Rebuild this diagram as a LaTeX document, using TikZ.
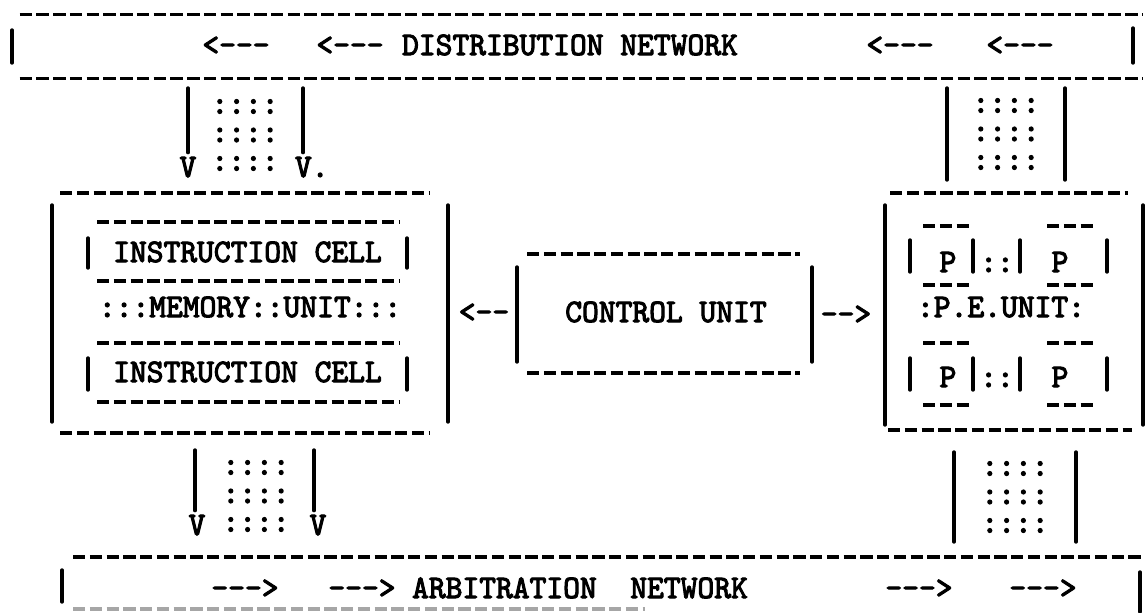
\documentclass[tikz,border=0pt]{standalone}
\usepackage{fontspec}
\usetikzlibrary{fit}
\newfontfamily\tw[FakeStretch=0.975,FakeBold=3.2,Ligatures=TeXOff]{lmmono10-regular.otf}
\begin{document}
\begin{tikzpicture}[x=0.5pt,y=-0.5pt,
  txt/.style={font={\tw\fontsize{16.4pt}{18pt}\selectfont},
              inner sep=0pt, text height=10pt, text depth=0pt},
  dots/.style={font={\tw\fontsize{16.4pt}{14.25pt}\selectfont},
               inner sep=0pt, align=center},
  rule/.style={line width=1.6pt, dash pattern=on 6.2pt off 2.175pt},
  bar/.style={line width=1.7pt, line cap=round},
  region/.style={inner sep=0pt, draw=none}]
\useasboundingbox[fill=white] (0,0) rectangle (1148,612);

% ---------------- distribution network band
\coordinate (dNW) at (20,15); \coordinate (dSE) at (1143,78);
\node[region, fit=(dNW)(dSE)] (dist) {};
\draw[rule] (dist.north west) -- (dist.north east);
\draw[rule] (dist.south west) -- (dist.south east);
\draw[bar] (12,30) -- (12,63);
\draw[bar] (1133,28) -- (1133,63);
\node[txt] (dArrA) at (236,45) {<---};
\node[txt] (dArrB) at (350,45) {<---};
\node[txt] (dTitle) at (570,45) {DISTRIBUTION NETWORK};
\node[txt] (dArrC) at (900,45) {<---};
\node[txt] (dArrD) at (1020,45) {<---};

% ---------------- memory unit
\coordinate (mNW) at (52,193); \coordinate (mSE) at (448,433);
\node[region, fit=(mNW)(mSE)] (mem) {};
\draw[rule] (60,193) -- (430,193);
\draw[rule] (60,433) -- (430,433);
\draw[bar] (52,205) -- (52,422);
\draw[bar] (448,205) -- (448,422);
% instruction cells
\node[txt] (cellA) at (247.5,252) {INSTRUCTION CELL};
\node[txt] (memLabel) at (250,307) {:::MEMORY::UNIT:::};
\node[txt] (cellB) at (247.5,372) {INSTRUCTION CELL};
\draw[rule] (97,222) -- (400,222);
\draw[rule] (97,281) -- (400,281);
\draw[rule] (97,343) -- (400,343);
\draw[rule] (97,402) -- (400,402);
\draw[bar] (88,238) -- (88,268);
\draw[bar] (407,238) -- (407,268);
\draw[bar] (88,358) -- (88,390);
\draw[bar] (407,358) -- (407,390);

% ---------------- control unit
\coordinate (cNW) at (517,254); \coordinate (cSE) at (812,373);
\node[region, fit=(cNW)(cSE)] (cu) {};
\draw[rule] (527,254) -- (800,254);
\draw[rule] (527,373) -- (800,373);
\draw[bar] (517,267) -- (517,362);
\draw[bar] (812,267) -- (812,362);
\node[txt] (cuLabel) at (666,312) {CONTROL UNIT};
\node[txt] (cuToMem) at (484,312) {<--};
\node[txt] (cuToPe) at (846,314) {-->};

% ---------------- processing element unit
\coordinate (pNW) at (885,193); \coordinate (pSE) at (1143,430);
\node[region, fit=(pNW)(pSE)] (pe) {};
\draw[rule] (890,193) -- (1128,193);
\draw[rule] (888,430) -- (1132,430);
\draw[bar] (885,205) -- (885,425);
\draw[bar] (1143,205) -- (1143,425);
\node[txt] (p1) at (948,262) {P};
\node[txt] (p2) at (1060,262) {P};
\node[txt] (p3) at (948,377) {P};
\node[txt] (p4) at (1060,377) {P};
\node[txt] (pLinkA) at (997,262) {::};
\node[txt] (pLinkB) at (997,377) {::};
\node[txt] (peLabel) at (1001,307) {:P.E.UNIT:};
\foreach \yy in {226,285,343,405}{
  \draw[rule] (923,\yy) -- (973,\yy);
  \draw[rule] (1047,\yy) -- (1097,\yy);
}
\foreach \xx in {910,973,1020,1107}{
  \draw[bar] (\xx,240) -- (\xx,272);
  \draw[bar] (\xx,358) -- (\xx,390);
}

% ---------------- arbitration network band
\coordinate (aNW) at (62,557); \coordinate (aSE) at (1142,608);
\node[region, fit=(aNW)(aSE)] (arb) {};
\draw[rule] (73,557) -- (1142,557);
\draw[rule, black!35] (73,609) -- (645,609);
\draw[bar] (62,570) -- (62,602);
\draw[bar] (1140,572) -- (1140,612);
\node[txt] (aArrA) at (245,588) {--->};
\node[txt] (aArrB) at (362,588) {--->};
\node[txt] (aTitle) at (580,588) {ARBITRATION\ \ NETWORK};
\node[txt] (aArrC) at (919,588) {--->};
\node[txt] (aArrD) at (1043,588) {--->};

% ---------------- channel: distribution -> memory
\coordinate (dmA) at (188,88);
\coordinate (dmB) at (303,88);
\node[txt] (dmHeadA) at (188,167) {V};
\node[txt, anchor=base west] (dmHeadB) at (294.6,177) {V.};
\draw[bar] (dmA) -- ([yshift=2pt]dmA |- dmHeadA.north);
\draw[bar] (dmB) -- ([yshift=2pt]dmB |- dmHeadB.north);
\node[dots] (dmDots) at (245,135) {::::\\::::\\::::};

% ---------------- channel: distribution -> processing elements
\coordinate (dpA1) at (947,88); \coordinate (dpA2) at (947,180);
\coordinate (dpB1) at (1065,88); \coordinate (dpB2) at (1065,180);
\draw[bar] (dpA1) -- (dpA2);
\draw[bar] (dpB1) -- (dpB2);
\node[dots] (dpDots) at (1006,134) {::::\\::::\\::::};

% ---------------- channel: memory -> arbitration
\coordinate (maA) at (195,450);
\coordinate (maB) at (314,450);
\node[txt] (maHeadA) at (197,525) {V};
\node[txt] (maHeadB) at (318,525) {V};
\draw[bar] (maA) -- ([yshift=2pt]maA |- maHeadA.north);
\draw[bar] (maB) -- ([yshift=2pt]maB |- maHeadB.north);
\node[dots] (maDots) at (256,496) {::::\\::::\\::::};

% ---------------- channel: processing elements -> arbitration
\coordinate (paA1) at (954,452); \coordinate (paA2) at (954,542);
\coordinate (paB1) at (1076,452); \coordinate (paB2) at (1076,542);
\draw[bar] (paA1) -- (paA2);
\draw[bar] (paB1) -- (paB2);
\node[dots] (paDots) at (1015,497) {::::\\::::\\::::};
\end{tikzpicture}
\end{document}
